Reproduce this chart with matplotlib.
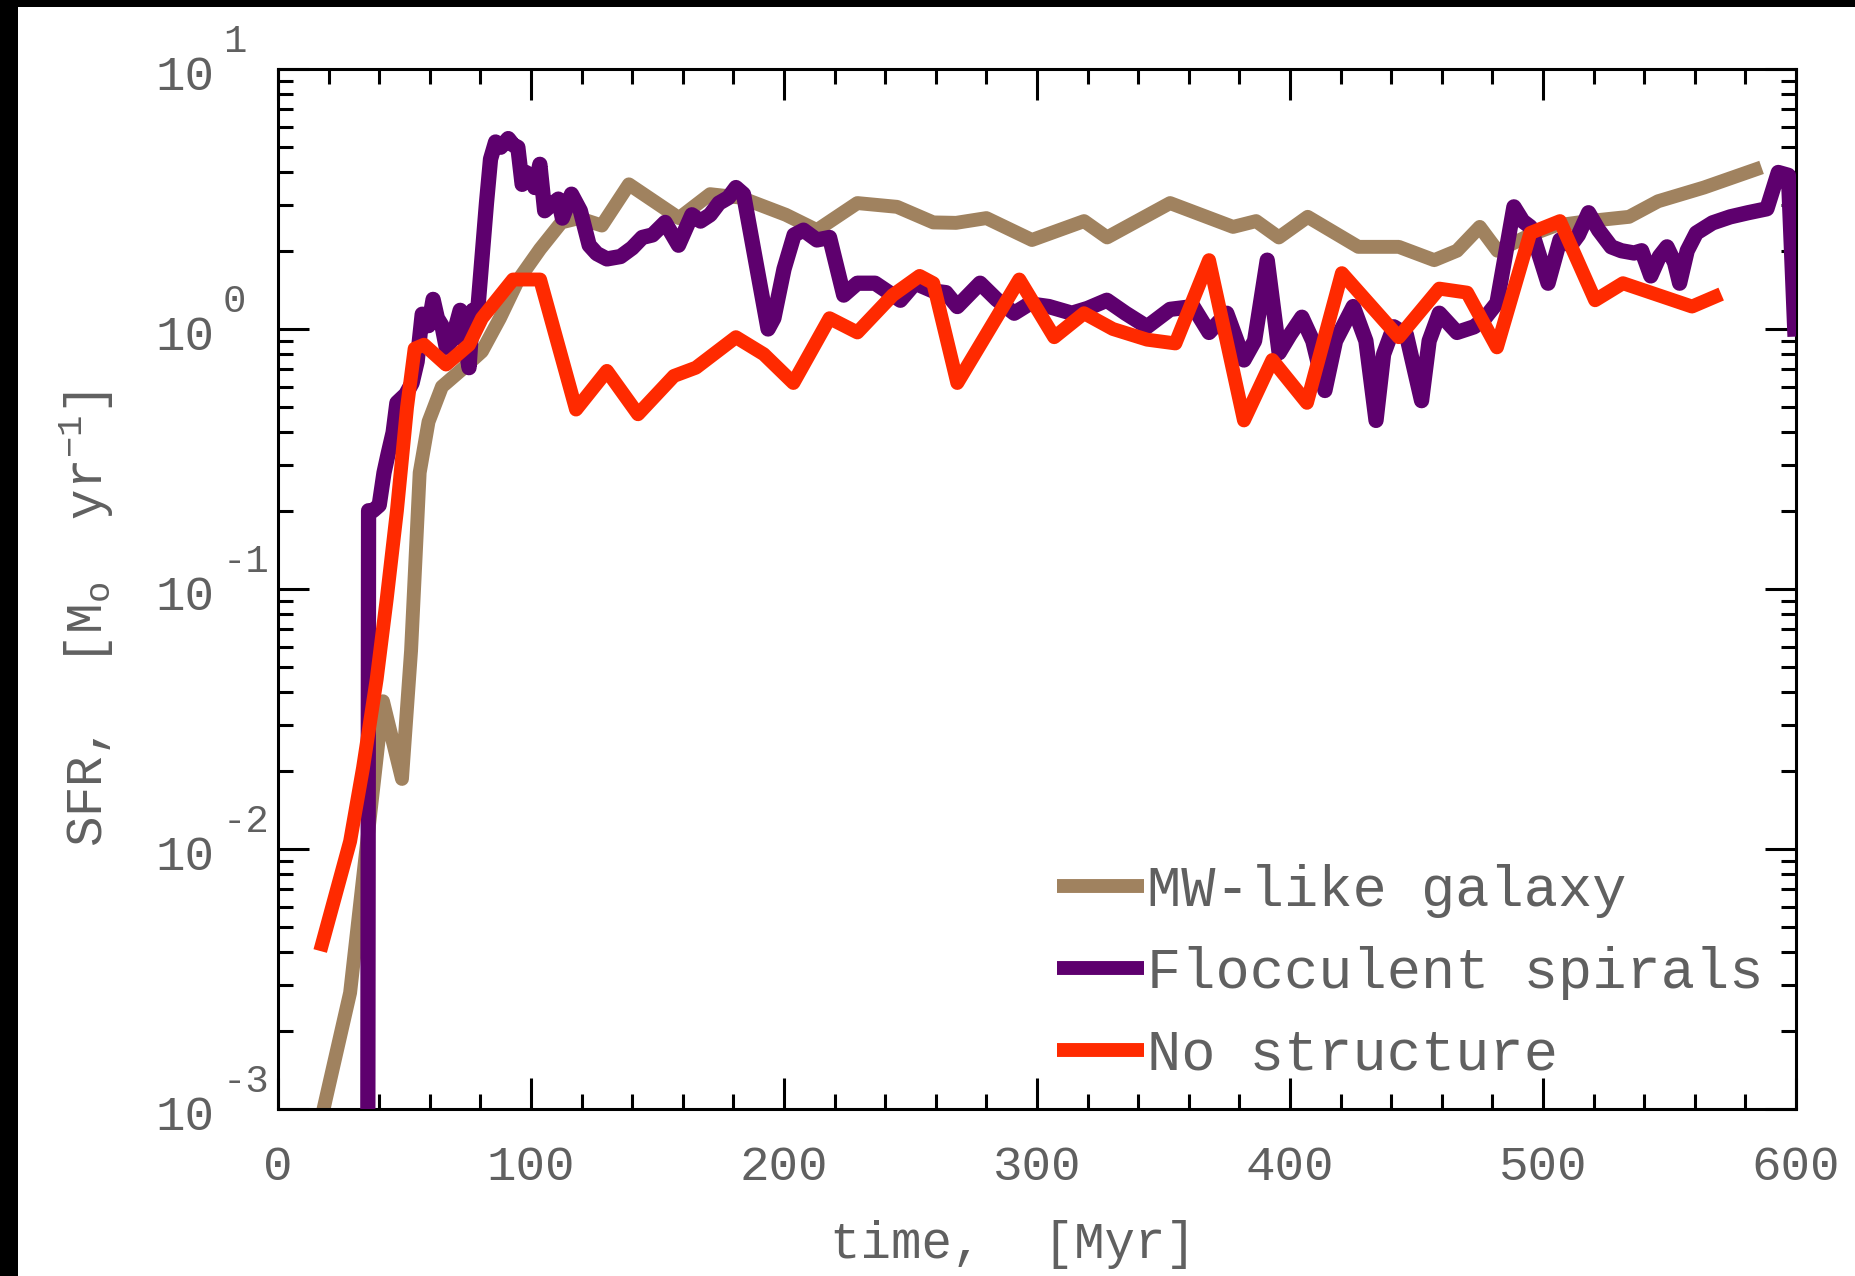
import matplotlib
matplotlib.use("Agg")
import matplotlib.pyplot as plt
import matplotlib.transforms as mtransforms
from matplotlib.ticker import MultipleLocator, LogLocator, NullFormatter
from matplotlib.patches import Rectangle

# ---------------- data ----------------
mw_time = [18, 28.5, 41.5, 49, 52.6, 56, 59.5, 64.8, 73.5, 80.6, 87.7, 94.9, 103.6, 112, 119,
           128, 138.7, 158.5, 170.8, 183, 200.7, 213, 229, 244.7, 259, 268, 280, 298, 318.6,
           327.7, 352.6, 377.5, 386.6, 395.6, 407, 427, 443, 457, 466, 475, 482, 495, 505,
           518, 534, 545.5, 563.6, 583.8]
mw_sfr = [0.001, 0.0028, 0.037, 0.0186, 0.058, 0.28, 0.44, 0.60, 0.71, 0.82, 1.1, 1.54, 2.03,
          2.57, 2.67, 2.5, 3.6, 2.67, 3.3, 3.2, 2.75, 2.4, 3.05, 2.95, 2.57, 2.56, 2.67, 2.2,
          2.6, 2.25, 3.05, 2.47, 2.6, 2.25, 2.7, 2.07, 2.07, 1.84, 2.0, 2.47, 2.0, 2.3, 2.5,
          2.6, 2.7, 3.1, 3.5, 4.1]

floc_time = [35.5, 35.8, 37.5, 40, 41.9, 43.5, 45.5, 47, 50.5, 53, 55, 57, 59.5, 61.3, 63,
             64.8, 66.5, 68.5, 70, 72, 73.5, 75.5, 77, 79, 82.4, 84, 86, 88, 91, 93, 94.8,
             96.5, 98, 100, 101.5, 103.5, 105.4, 108, 110.8, 112.4, 116, 119.5, 123, 126,
             130, 135.4, 140, 144, 148, 153, 158.3, 163.6, 167, 170.8, 174.3, 178, 181, 184,
             193.7, 196, 200, 204, 207.7, 213, 218, 223.6, 229, 236, 243, 246, 251.8, 259,
             264, 268.5, 277.5, 284, 291, 297, 304.7, 313.8, 320, 327.6, 335, 343.5, 352.6,
             361.7, 368, 375, 381.8, 386, 391, 395.7, 400, 404.7, 409, 413.8, 418, 425, 430,
             434, 437, 441, 446, 452, 455, 459, 466, 472.8, 477, 481.8, 488.5, 492, 495, 502,
             506.7, 511, 514, 518, 522, 527, 531, 536, 539, 542.6, 546, 549, 552, 554, 557,
             560.6, 567, 574, 581, 588.5, 593, 597, 599.5]
floc_sfr = [0.0008, 0.2, 0.2, 0.21, 0.28, 0.33, 0.4, 0.52, 0.56, 0.62, 0.75, 1.14, 1.03, 1.3,
            1.1, 1.03, 0.85, 0.9, 1.0, 1.18, 0.95, 0.71, 1.18, 1.2, 3.05, 4.5, 5.24, 5.0, 5.4,
            5.1, 5.0, 3.6, 4.0, 3.87, 3.5, 4.3, 2.85, 3.0, 3.16, 2.67, 3.3, 2.85, 2.1, 1.95,
            1.86, 1.9, 2.05, 2.25, 2.3, 2.57, 2.1, 2.75, 2.6, 2.75, 3.05, 3.2, 3.5, 3.3, 1.0,
            1.1, 1.7, 2.3, 2.4, 2.2, 2.25, 1.35, 1.5, 1.5, 1.35, 1.29, 1.5, 1.4, 1.38, 1.22,
            1.5, 1.3, 1.15, 1.25, 1.22, 1.15, 1.2, 1.29, 1.15, 1.02, 1.19, 1.22, 0.97, 1.15,
            0.76, 0.9, 1.84, 0.81, 0.95, 1.11, 0.9, 0.58, 0.9, 1.22, 0.9, 0.445, 0.8, 1.02,
            0.95, 0.53, 0.9, 1.15, 0.97, 1.02, 1.1, 1.26, 2.95, 2.6, 2.47, 1.5, 2.2, 2.1, 2.3,
            2.8, 2.4, 2.07, 2.0, 1.96, 2.0, 1.6, 1.9, 2.07, 1.8, 1.5, 2.0, 2.34, 2.56, 2.7,
            2.8, 2.9, 4.0, 3.9, 1.0]

nostr_time = [17.4, 28.5, 33.6, 39, 43, 47, 51, 54, 57.7, 66.4, 75.5, 80.6, 92.9, 103.6,
              117.8, 130, 142.3, 156.5, 165.2, 181, 192, 203.7, 218, 229, 243, 253.6, 259,
              268.5, 293, 306.8, 318.6, 330, 343.5, 354.7, 368, 381.8, 393, 406.7, 420.5,
              443, 459, 470, 481.8, 495, 506.7, 520.6, 531.6, 558.9, 567.9]
nostr_sfr = [0.0043, 0.0107, 0.0205, 0.045, 0.092, 0.2, 0.5, 0.84, 0.87, 0.73, 0.87, 1.1,
             1.55, 1.55, 0.49, 0.69, 0.47, 0.66, 0.71, 0.93, 0.8, 0.62, 1.1, 0.97, 1.35, 1.6,
             1.5, 0.62, 1.55, 0.93, 1.15, 1.0, 0.91, 0.88, 1.84, 0.445, 0.76, 0.52, 1.64,
             0.93, 1.43, 1.38, 0.85, 2.34, 2.6, 1.29, 1.5, 1.22, 1.33]

labels = ["MW-like galaxy", "Flocculent spirals", "No structure"]
colors = ["#A0825F", "#5E006E", "#FF2A00"]
xticks = [0, 100, 200, 300, 400, 500, 600]
ytick_exponents = [-3, -2, -1, 0, 1]

# ---------------- style ----------------
plt.rcParams["font.family"] = ["Liberation Mono", "DejaVu Sans Mono"]
plt.rcParams["mathtext.fontset"] = "custom"
plt.rcParams["mathtext.rm"] = "Liberation Mono"
plt.rcParams["mathtext.it"] = "Liberation Mono"
plt.rcParams["mathtext.default"] = "regular"
TEXT = "#606060"

W, H = 1856, 1276
fig = plt.figure(figsize=(W / 100, H / 100), dpi=100)
fig.patch.set_facecolor("white")
fig.patches.append(Rectangle((0, 0), 18 / W, 1, transform=fig.transFigure,
                             facecolor="black", edgecolor="none", zorder=-1))
fig.patches.append(Rectangle((0, 1 - 7 / H), 1, 7 / H, transform=fig.transFigure,
                             facecolor="black", edgecolor="none", zorder=-1))

ax = fig.add_axes([278 / W, 1 - 1109 / H, 1518 / W, 1040 / H])
lw = 10
ax.plot(mw_time, mw_sfr, color=colors[0], lw=lw, label=labels[0], solid_joinstyle="round", zorder=2)
ax.plot(floc_time, floc_sfr, color=colors[1], lw=11, label=labels[1], solid_joinstyle="round", zorder=3)
ax.plot(nostr_time, nostr_sfr, color=colors[2], lw=lw, label=labels[2], solid_joinstyle="round", zorder=4)

ax.set_xlim(0, 600)
ax.set_yscale("log")
ax.set_ylim(1e-3, 1e1)
ax.set_xticks(xticks)
ax.xaxis.set_minor_locator(MultipleLocator(20))
yticks = [10.0 ** e for e in ytick_exponents]
ax.set_yticks(yticks)
ax.yaxis.set_minor_locator(LogLocator(base=10, subs=range(2, 10), numticks=50))
ax.yaxis.set_minor_formatter(NullFormatter())
ax.set_yticklabels([])

for s in ax.spines.values():
    s.set_linewidth(2.2)
    s.set_color("black")
ax.tick_params(which="both", direction="in", top=True, right=True, width=2.2, color="black")
ax.tick_params(which="major", length=22, labelsize=35.5, labelcolor=TEXT)
ax.tick_params(which="minor", length=10.5)
ax.tick_params(axis="x", which="major", pad=26)

# IDL-style y tick labels: "10" with a raised exponent
btr = mtransforms.blended_transform_factory(ax.transAxes, ax.transData)
base_tr = mtransforms.offset_copy(btr, fig=fig, x=0, y=-8 * 0.72, units="points")
exp_tr = mtransforms.offset_copy(btr, fig=fig, x=0, y=27 * 0.72, units="points")
x_base = (214 - 278) / 1518
x_exp = (223 - 278) / 1518
for e, v in zip(ytick_exponents, yticks):
    ax.text(x_base, v, "10", transform=base_tr, ha="right", va="center",
            fontsize=35.5, color=TEXT, clip_on=False)
    ax.text(x_exp, v, "%d" % e, transform=exp_tr, ha="left", va="center",
            fontsize=28, color=TEXT, clip_on=False)

fig.text(1013 / W, 1 - 1258 / H, "time,  [Myr]", fontsize=36.5, color=TEXT,
         ha="center", va="baseline")
fig.text(87 / W, 1 - 619 / H, r"SFR,  [M$_\mathregular{o}$  yr$^\mathregular{-1}$]",
         fontsize=36.5, color=TEXT, rotation=90, ha="center", va="center")

leg = ax.legend(loc="lower left", bbox_to_anchor=(0.513, 0.026), frameon=False,
                fontsize=41, labelcolor=TEXT, handlelength=1.53, handletextpad=0.05,
                labelspacing=0.49, borderpad=0, borderaxespad=0)
for h in leg.get_lines():
    h.set_linewidth(lw)
    h.set_solid_capstyle("butt")

fig.savefig("out.png", dpi=100)
